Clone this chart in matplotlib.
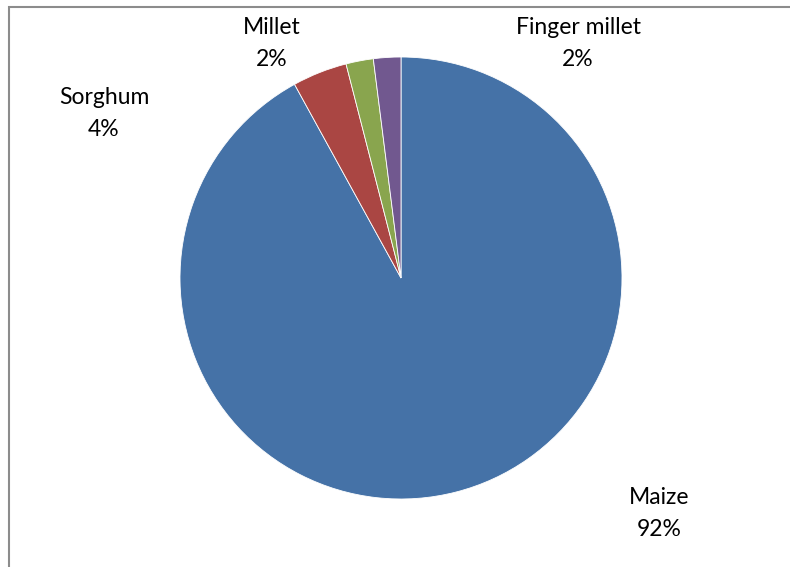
import matplotlib.pyplot as plt
from matplotlib.patches import Rectangle

# donnees du graphique
categories = ['Maize', 'Sorghum', 'Millet', 'Finger millet']
valeurs = [92, 4, 2, 2]
couleurs = ['#4572A7', '#AA4643', '#89A54E', '#71588F']

# position des etiquettes (pixels, origine en haut a gauche)
pos_labels = [(659, 497), (104, 98), (272, 27), (578, 27)]

W, H = 790, 567
fig = plt.figure(figsize=(W / 100, H / 100), dpi=100)
ax = fig.add_axes([0, 0, 1, 1])

ax.pie(valeurs, colors=couleurs, startangle=90, counterclock=False,
       center=(401, H - 278), radius=221,
       wedgeprops={'edgecolor': 'white', 'linewidth': 0.6})
ax.set_xlim(0, W)
ax.set_ylim(0, H)
ax.set_aspect('equal')
ax.axis('off')

total = sum(valeurs)
for nom, v, (x, y) in zip(categories, valeurs, pos_labels):
    pct = f"{round(100 * v / total)}%"
    ax.text(x, H - y, nom, ha='center', va='center', fontsize=16.5, family='Lato')
    ax.text(x, H - y - 32, pct, ha='center', va='center', fontsize=16.5, family='Lato')

# cadre gris
ax.add_patch(Rectangle((8.5, -10), W + 20, H - 7 + 10, fill=False,
                       edgecolor='#8c8c8c', linewidth=1.5, clip_on=False))

fig.savefig('out.png', dpi=100)
